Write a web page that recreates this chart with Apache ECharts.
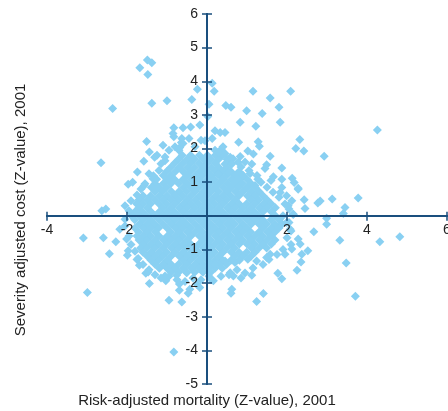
<!DOCTYPE html>
<html>
<head>
<meta charset="utf-8">
<script src="https://cdn.jsdelivr.net/npm/echarts@6/dist/echarts.min.js"></script>
<style>html,body{margin:0;padding:0;background:#fff;}#c{width:448px;height:411px;}</style>
</head>
<body>
<div id="c"></div>
<script>
// Axis ranges / tick labels
const xTicks = [-4, -2, 0, 2, 4, 6];
const yTicks = [-5, -4, -3, -2, -1, 0, 1, 2, 3, 4, 5, 6];
const xTitle = 'Risk-adjusted mortality (Z-value), 2001';
const yTitle = 'Severity adjusted cost (Z-value), 2001';

// Dense core, read row by row: [y, [x values]]
const coreRows = [
  [1.80, [-0.62,-0.41,-0.19,0.01,0.21,0.39]],
  [1.68, [-0.71,-0.50,-0.31,-0.09,0.10,0.29,0.50]],
  [1.56, [-0.81,-0.60,-0.41,-0.20,0.00,0.21,0.59]],
  [1.44, [-0.91,-0.70,-0.49,-0.31,-0.10,0.11,0.30,0.49]],
  [1.32, [-1.01,-0.79,-0.60,-0.41,-0.19,0.00,0.21,0.39,0.60,0.80]],
  [1.20, [-1.09,-0.90,-0.50,-0.29,-0.11,0.10,0.31,0.49,0.70,0.90]],
  [1.08, [-1.00,-0.81,-0.60,-0.39,-0.20,0.01,0.19,0.40,0.61,0.80,1.01]],
  [0.96, [-1.30,-1.09,-0.90,-0.71,-0.50,-0.29,-0.10,0.09,0.30,0.51,0.70,0.89,1.10]],
  [0.84, [-1.39,-1.20,-1.01,-0.59,-0.40,-0.21,0.00,0.20,0.41,0.60,0.79,1.00,1.21]],
  [0.72, [-1.30,-1.11,-0.89,-0.70,-0.51,-0.30,-0.09,0.10,0.29,0.50,0.71,0.90,1.11,1.30]],
  [0.60, [-1.60,-1.41,-1.19,-1.00,-0.80,-0.61,-0.40,-0.19,0.00,0.21,0.40,0.59,0.80,1.01,1.20,1.40]],
  [0.48, [-1.70,-1.49,-1.30,-1.09,-0.90,-0.71,-0.50,-0.29,-0.10,0.11,0.30,0.49,0.70,1.10,1.29,1.50]],
  [0.36, [-1.76,-1.60,-1.41,-1.20,-1.01,-0.80,-0.59,-0.40,-0.21,0.00,0.19,0.40,0.61,0.80,0.99,1.20,1.41,1.60]],
  [0.24, [-1.70,-1.49,-1.11,-0.90,-0.69,-0.50,-0.31,-0.10,0.09,0.30,0.51,0.70,0.89,1.10,1.31,1.50,1.71]],
  [0.12, [-1.80,-1.61,-1.40,-1.19,-1.00,-0.81,-0.60,-0.39,-0.20,0.01,0.20,0.39,0.60,0.81,1.00,1.19,1.40,1.61]],
  [0.00, [-1.89,-1.70,-1.51,-1.30,-1.09,-0.90,-0.71,-0.50,-0.29,-0.10,0.11,0.30,0.49,0.70,0.91,1.10,1.29,1.71,1.90]],
  [-0.12, [-1.81,-1.60,-1.41,-1.20,-0.99,-0.80,-0.61,-0.40,-0.19,0.00,0.21,0.40,0.59,0.80,1.01,1.20,1.39,1.60,1.81]],
  [-0.24, [-1.69,-1.50,-1.31,-1.10,-0.89,-0.70,-0.51,-0.30,-0.09,0.10,0.31,0.50,0.69,0.90,1.11,1.30,1.49,1.70,1.88]],
  [-0.36, [-1.80,-1.59,-1.40,-1.21,-1.00,-0.79,-0.60,-0.41,-0.20,0.01,0.20,0.39,0.60,0.81,1.00,1.40,1.61,1.80]],
  [-0.48, [-1.71,-1.50,-1.29,-0.91,-0.70,-0.49,-0.30,-0.11,0.10,0.29,0.50,0.71,0.90,1.09,1.30,1.51,1.70]],
  [-0.60, [-1.75,-1.60,-1.41,-1.20,-0.99,-0.80,-0.61,-0.40,-0.19,0.00,0.21,0.40,0.59,0.80,1.01,1.20,1.39,1.60]],
  [-0.72, [-1.70,-1.51,-1.30,-1.09,-0.90,-0.71,-0.50,-0.10,0.09,0.30,0.51,0.70,0.89,1.10,1.31,1.50,1.70]],
  [-0.84, [-1.60,-1.40,-1.21,-1.00,-0.79,-0.60,-0.41,-0.20,0.01,0.20,0.39,0.60,0.81,1.00,1.19,1.40,1.61]],
  [-0.96, [-1.66,-1.50,-1.31,-1.10,-0.89,-0.70,-0.51,-0.30,-0.09,0.10,0.31,0.50,0.69,1.11,1.30,1.49]],
  [-1.08, [-1.60,-1.39,-1.20,-1.01,-0.80,-0.59,-0.40,-0.21,0.00,0.19,0.40,0.61,0.80,0.99,1.20]],
  [-1.20, [-1.49,-1.30,-1.11,-0.90,-0.69,-0.50,-0.31,-0.10,0.09,0.30,0.70,0.89,1.10]],
  [-1.32, [-1.40,-1.21,-1.00,-0.60,-0.41,-0.20,0.01,0.20,0.39,0.60,0.81]],
  [-1.44, [-1.30,-1.09,-0.90,-0.71,-0.50,-0.29,-0.10,0.11,0.30,0.49]],
  [-1.56, [-1.19,-1.00,-0.81,-0.60,-0.39,-0.20,0.01,0.20,0.38]],
  [-1.68, [-0.90,-0.71,-0.50,-0.31,-0.10,0.09]]
];

// Looser band around the core: [x, y]
const fringePoints = [
  [-1.20,1.35],[-1.35,1.10],[-1.55,0.95],[-1.45,1.25],[-1.15,1.55],[-1.05,1.75],[-0.95,1.95],[-0.80,2.05],
  [-0.60,2.15],[-0.45,2.30],[-0.30,2.05],[-0.15,2.25],[-0.85,2.45],[-0.70,1.95],[-1.10,2.10],[-1.25,1.80],
  [-1.65,0.80],[-1.75,0.62],[-1.90,0.45],[-2.05,0.30],[-1.95,0.15],
  [0.45,1.85],[0.65,1.70],[0.85,1.45],[1.05,1.35],[1.25,1.20],[1.35,1.00],[1.50,0.85],[1.65,0.70],
  [1.80,0.55],[1.95,0.35],[2.05,0.20],[2.15,0.05],[0.95,1.60],[0.40,2.05],[0.20,1.95],[1.20,0.90],[1.60,1.05],
  [2.05,-0.20],[2.10,-0.45],[2.00,-0.65],[2.10,-0.85],[1.90,-1.00],[1.75,-1.15],[1.55,-1.30],[1.40,-1.45],
  [1.15,-1.55],[0.95,-1.70],[0.75,-1.60],[0.55,-1.75],[0.35,-1.80],[0.85,-1.85],
  [-1.95,-0.60],[-1.90,-0.85],[-1.80,-1.05],[-1.75,-1.30],[-1.60,-1.45],[-1.45,-1.60],[-1.30,-1.75],
  [-1.15,-1.85],[-0.95,-1.80],[-0.75,-1.90],[-0.55,-1.95],[-0.35,-1.85],[-0.15,-1.90],[0.05,-1.80],
  [-2.05,-0.30],[-2.05,-0.10]
];

// Scattered outlying hospitals: [x, y]
const outlierPoints = [
  [-1.49,4.63],[-1.38,4.55],[-1.68,4.40],[-1.48,4.20],[-2.36,3.19],[-1.38,3.35],[-1.00,3.42],[-0.24,3.76],
  [-0.38,3.46],[-0.83,2.62],[-0.60,2.62],[-0.41,2.64],[-0.18,2.70],[-0.83,2.35],[-0.63,2.30],[-1.51,2.21],
  [-1.44,1.90],[-1.31,1.74],[-1.58,1.62],[-2.65,1.58],[-1.74,1.30],[-1.97,0.94],[-1.86,1.00],[-1.57,0.90],
  [-1.34,1.19],[-1.26,1.09],[-1.05,1.64],[-0.68,2.03],[-0.64,2.18],[-0.05,2.23],
  [0.13,3.94],[0.18,3.70],[0.05,3.32],[0.02,2.95],[1.15,3.70],[1.58,3.50],[2.09,3.70],[1.80,3.23],
  [0.47,3.28],[0.60,3.23],[0.99,3.12],[1.38,3.04],[0.83,2.78],[1.22,2.66],[1.83,2.78],[4.26,2.55],
  [0.20,2.53],[0.33,2.48],[0.45,2.48],[0.13,2.30],[0.79,2.19],[1.28,2.20],[1.31,2.07],[2.32,2.27],
  [2.22,2.00],[2.42,1.93],[2.93,1.77],[0.35,1.97],[0.28,1.88],[1.02,1.93],[1.16,1.84],[1.58,1.77],
  [0.58,1.74],[0.83,1.76],[0.78,1.59],[0.45,1.54],[0.62,1.54],[1.12,1.54],[1.49,1.52],[1.45,1.41],
  [1.87,1.42],[1.66,1.16],[1.87,1.09],[2.13,1.12],[2.18,0.99],[2.28,0.82],[0.28,1.24],[0.53,1.29],
  [0.91,1.19],[1.08,1.26],[1.27,1.09],
  [2.28,0.79],[2.43,0.48],[2.45,0.22],[2.77,0.38],[2.83,0.44],[3.13,0.50],[3.78,0.53],[3.45,0.25],
  [3.41,0.07],[2.99,-0.07],[2.99,-0.25],[2.67,-0.47],[3.32,-0.73],[4.32,-0.77],[4.82,-0.62],[3.48,-1.40],
  [3.71,-2.39],[2.52,-1.04],[2.33,-0.84],[2.28,-0.69],[2.37,-1.14],[2.35,-1.37],[2.25,-1.62],[2.12,-0.99],
  [1.95,-1.14],[1.77,-1.71],[1.87,-1.87],[1.12,-1.77],[1.41,-2.31],[1.24,-2.55],[0.62,-2.18],[0.60,-2.30],
  [0.66,-1.79],[0.58,-1.69],[0.16,-1.93],[0.08,-1.87],[1.49,-1.24],[1.58,-1.14],[1.24,-1.34],[1.02,-1.29],
  [0.70,-1.39],[0.45,-1.34],[0.20,-1.44],[2.08,-0.40],[1.99,-0.20],[2.16,0.05],[2.03,0.30],[2.12,0.45],
  [1.99,0.60],[1.83,0.69],[1.87,0.84],
  [-2.63,0.15],[-2.53,0.20],[-3.09,-0.66],[-2.59,-0.65],[-2.28,-0.77],[-2.44,-1.13],[-2.99,-2.28],[-2.18,-0.40],
  [-2.01,-0.69],[-1.97,-1.04],[-1.99,-1.17],[-1.72,-1.27],[-1.69,-1.47],[-1.53,-1.71],[-1.47,-1.67],[-1.44,-2.01],
  [-1.05,-1.79],[-1.03,-1.93],[-0.95,-2.51],[-0.63,-2.56],[-0.69,-2.03],[-0.69,-2.21],[-0.47,-2.30],[-0.43,-2.18],
  [-0.83,-4.05],[-0.26,-2.03],[-0.18,-2.13],[-0.51,-1.69],[-0.76,-1.77]
];

const data = [];
coreRows.forEach(r => r[1].forEach(x => data.push([x, r[0]])));
fringePoints.forEach(p => data.push(p));
outlierPoints.forEach(p => data.push(p));

const axisColor = '#1A4F7E';
const textColor = '#222';
const fontFam = '"Liberation Sans", Arial, sans-serif';

const xBase = {
  type: 'value', min: xTicks[0], max: xTicks[xTicks.length - 1], interval: xTicks[1] - xTicks[0],
  z: 5, splitLine: { show: false }, axisLabel: { show: false },
  axisLine: { show: true, onZero: true, lineStyle: { color: axisColor, width: 2 } }
};
const yBase = {
  type: 'value', min: yTicks[0], max: yTicks[yTicks.length - 1], interval: yTicks[1] - yTicks[0],
  z: 5, splitLine: { show: false }, axisLabel: { show: false },
  axisLine: { show: true, onZero: true, lineStyle: { color: axisColor, width: 2 } }
};
const tick = len => ({ show: true, length: len, lineStyle: { color: axisColor, width: 1.5 } });

const chart = echarts.init(document.getElementById('c'), null, { renderer: 'canvas' });
chart.setOption({
  animation: false,
  grid: { left: 47, right: 1, top: 14, bottom: 27, containLabel: false },
  xAxis: [
    Object.assign({}, xBase, { position: 'bottom', axisTick: tick(5) }),
    Object.assign({}, xBase, { position: 'top', axisTick: tick(4) })
  ],
  yAxis: [
    Object.assign({}, yBase, { position: 'left', axisTick: tick(5) }),
    Object.assign({}, yBase, { position: 'right', axisTick: tick(5) })
  ],
  series: [{
    type: 'scatter',
    xAxisIndex: 0, yAxisIndex: 0,
    symbol: 'diamond',
    symbolSize: 9,
    z: 2,
    itemStyle: { color: '#89D0F2', opacity: 1 },
    emphasis: { disabled: true },
    data: data
  }]
});

// Tick labels placed through the chart's own scales, next to the axes crossing at zero
const toPx = (x, y) => chart.convertToPixel({ xAxisIndex: 0, yAxisIndex: 0 }, [x, y]);
const origin = toPx(0, 0);
const graphics = [];
xTicks.filter(v => v !== 0).forEach(v => {
  const p = toPx(v, 0);
  graphics.push({ type: 'text', x: p[0], y: origin[1] + 14, z: 100,
    style: { text: String(v), fill: textColor, font: '14px ' + fontFam, align: 'center', verticalAlign: 'middle' } });
});
yTicks.filter(v => v !== 0).forEach(v => {
  const p = toPx(0, v);
  graphics.push({ type: 'text', x: origin[0] - 9, y: p[1], z: 100,
    style: { text: String(v), fill: textColor, font: '14px ' + fontFam, align: 'right', verticalAlign: 'middle' } });
});
graphics.push({ type: 'text', x: origin[0], y: 401, z: 100,
  style: { text: xTitle, fill: textColor, font: '15px ' + fontFam, align: 'center', verticalAlign: 'middle' } });
graphics.push({ type: 'text', x: 21, y: 210, rotation: Math.PI / 2, z: 100,
  style: { text: yTitle, fill: textColor, font: '15px ' + fontFam, align: 'center', verticalAlign: 'middle' } });
chart.setOption({ graphic: graphics });
</script>
</body>
</html>
